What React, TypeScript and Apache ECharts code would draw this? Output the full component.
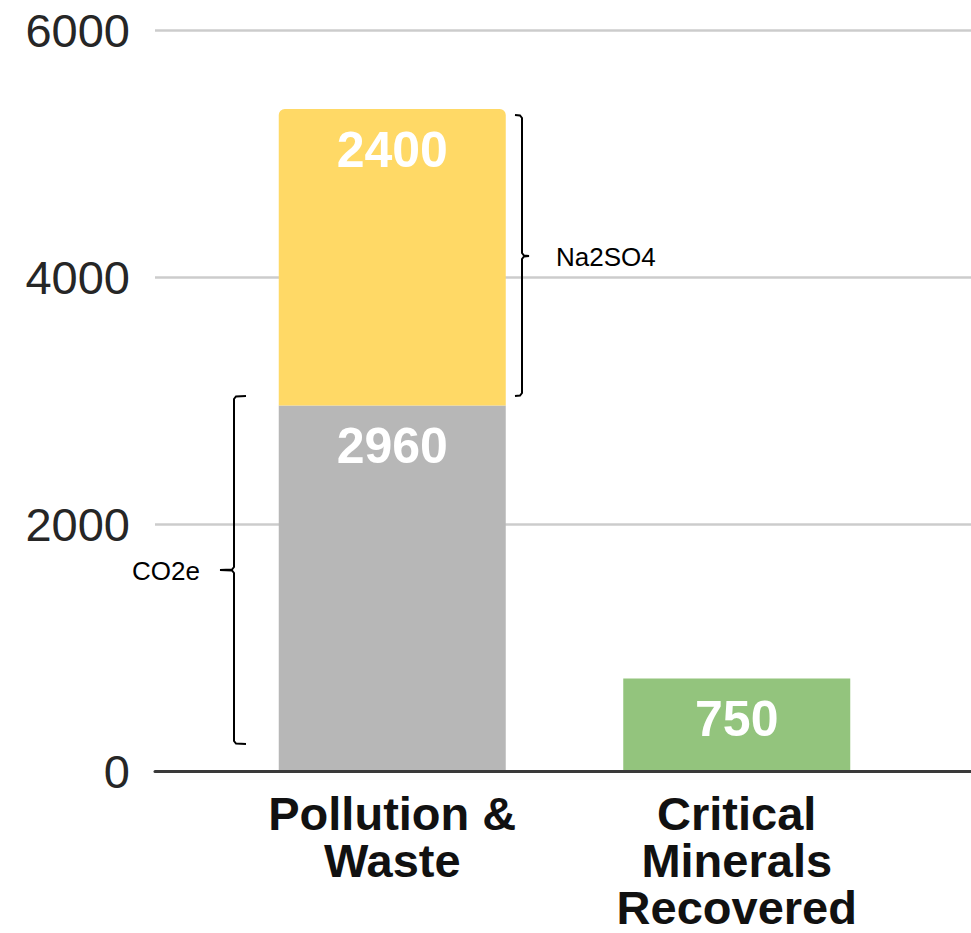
import React, { useEffect, useRef } from "react";
import * as echarts from "echarts";

const categories = ["Pollution &\nWaste", "Critical\nMinerals\nRecovered"];
const co2eValues = [2960, "-"];
const na2so4Values = [2400, "-"];
const mineralsValues = ["-", 750];
const yTicks = { min: 0, max: 6000, interval: 2000 };
// bracket annotations: [categoryIndex, low, high, side(1 = right, -1 = left)]
const bracketData = [
  [0, 3040, 5310, 1],
  [0, 220, 3040, -1],
];
const bracketLabels = ["Na2SO4", "CO2e"];

const FONT = "Arial, 'Liberation Sans', sans-serif";

export default function App() {
  const ref = useRef<HTMLDivElement>(null);
  useEffect(() => {
    if (!ref.current) return;
    const chart = echarts.init(ref.current, null, { renderer: "svg" });
    const gridTop = 30;
    const gridBottom = 162;
    const valueLabel = {
      show: true,
      position: "insideTop",
      distance: 16,
      color: "#ffffff",
      fontFamily: FONT,
      fontWeight: "bold",
      fontSize: 50,
      lineHeight: 50,
    };
    const option: any = {
      animation: false,
      backgroundColor: "#ffffff",
      grid: [
        { left: 155, right: 0, top: gridTop, bottom: gridBottom },
        { left: 220, right: 62, top: gridTop, bottom: gridBottom },
      ],
      xAxis: [
        {
          gridIndex: 0,
          type: "category",
          data: [""],
          z: 5,
          axisLine: { show: true, lineStyle: { color: "#3a3a3a", width: 3 } },
          axisTick: { show: false },
          axisLabel: { show: false },
        },
        {
          gridIndex: 1,
          type: "category",
          data: categories,
          axisLine: { show: false },
          axisTick: { show: false },
          axisLabel: {
            show: true,
            interval: 0,
            margin: 19,
            color: "#111111",
            fontFamily: FONT,
            fontWeight: "bold",
            fontSize: 47,
            lineHeight: 47,
          },
        },
      ],
      yAxis: [
        {
          gridIndex: 0,
          type: "value",
          min: yTicks.min,
          max: yTicks.max,
          interval: yTicks.interval,
          axisLine: { show: false },
          axisTick: { show: false },
          axisLabel: {
            margin: 25,
            color: "#262626",
            fontFamily: FONT,
            fontSize: 47,
            formatter: (v: number) => String(v),
          },
          splitLine: { show: true, lineStyle: { color: "#cccccc", width: 2.5 } },
        },
        {
          gridIndex: 1,
          type: "value",
          min: yTicks.min,
          max: yTicks.max,
          interval: yTicks.interval,
          show: false,
          splitLine: { show: false },
        },
      ],
      series: [
        {
          name: "CO2e",
          type: "bar",
          xAxisIndex: 1,
          yAxisIndex: 1,
          stack: "total",
          barWidth: 227,
          data: co2eValues,
          itemStyle: { color: "#b7b7b7" },
          label: valueLabel,
        },
        {
          name: "Na2SO4",
          type: "bar",
          xAxisIndex: 1,
          yAxisIndex: 1,
          stack: "total",
          barWidth: 227,
          data: na2so4Values,
          itemStyle: { color: "#ffd966", borderRadius: [6, 6, 0, 0] },
          label: valueLabel,
        },
        {
          name: "Critical Minerals",
          type: "bar",
          xAxisIndex: 1,
          yAxisIndex: 1,
          stack: "total",
          barWidth: 227,
          data: mineralsValues,
          itemStyle: { color: "#93c47d" },
          label: valueLabel,
        },
        {
          type: "custom",
          xAxisIndex: 1,
          yAxisIndex: 1,
          z: 10,
          silent: true,
          data: bracketData,
          renderItem: (params: any, api: any) => {
            const cat = api.value(0);
            const lo = api.value(1);
            const hi = api.value(2);
            const side = api.value(3);
            const pTop = api.coord([cat, hi]);
            const pBot = api.coord([cat, lo]);
            const cx = pTop[0];
            const half = 113.5;
            const x = Math.round(side > 0 ? cx + half + 16.5 : cx - half - 45);
            const yT = Math.round(pTop[1]);
            const yB = Math.round(pBot[1]);
            const yM = Math.round((yT + yB) / 2);
            const inward = side > 0 ? -1 : 1; // end ticks point toward bar
            const out = -inward;
            const endLen = side > 0 ? 7 : 12;
            const midLen = side > 0 ? 7 : 14;
            const stroke = { stroke: "#000000", lineWidth: 2, fill: null };
            return {
              type: "group",
              children: [
                {
                  type: "polyline",
                  shape: {
                    points: [
                      [x + inward * endLen, yT],
                      [x + inward * 2, yT + 0.5],
                      [x, yT + 3],
                      [x, yM - 3],
                      [x + out * 2, yM - 0.5],
                      [x + out * midLen, yM],
                      [x + out * 2, yM + 0.5],
                      [x, yM + 3],
                      [x, yB - 3],
                      [x + inward * 2, yB - 0.5],
                      [x + inward * endLen, yB],
                    ],
                  },
                  style: stroke,
                },
                {
                  type: "text",
                  style: {
                    text: bracketLabels[params.dataIndex],
                    x: x + out * 34,
                    y: yM + 1,
                    align: side > 0 ? "left" : "right",
                    verticalAlign: "middle",
                    fill: "#000000",
                    fontSize: 26,
                    fontFamily: FONT,
                  },
                },
              ],
            };
          },
        },
      ],
    };
    chart.setOption(option);
    return () => chart.dispose();
  }, []);
  return (
    <div
      ref={ref}
      style={{ position: "fixed", left: 0, top: 0, width: 971, height: 933, background: "#fff" }}
    />
  );
}
